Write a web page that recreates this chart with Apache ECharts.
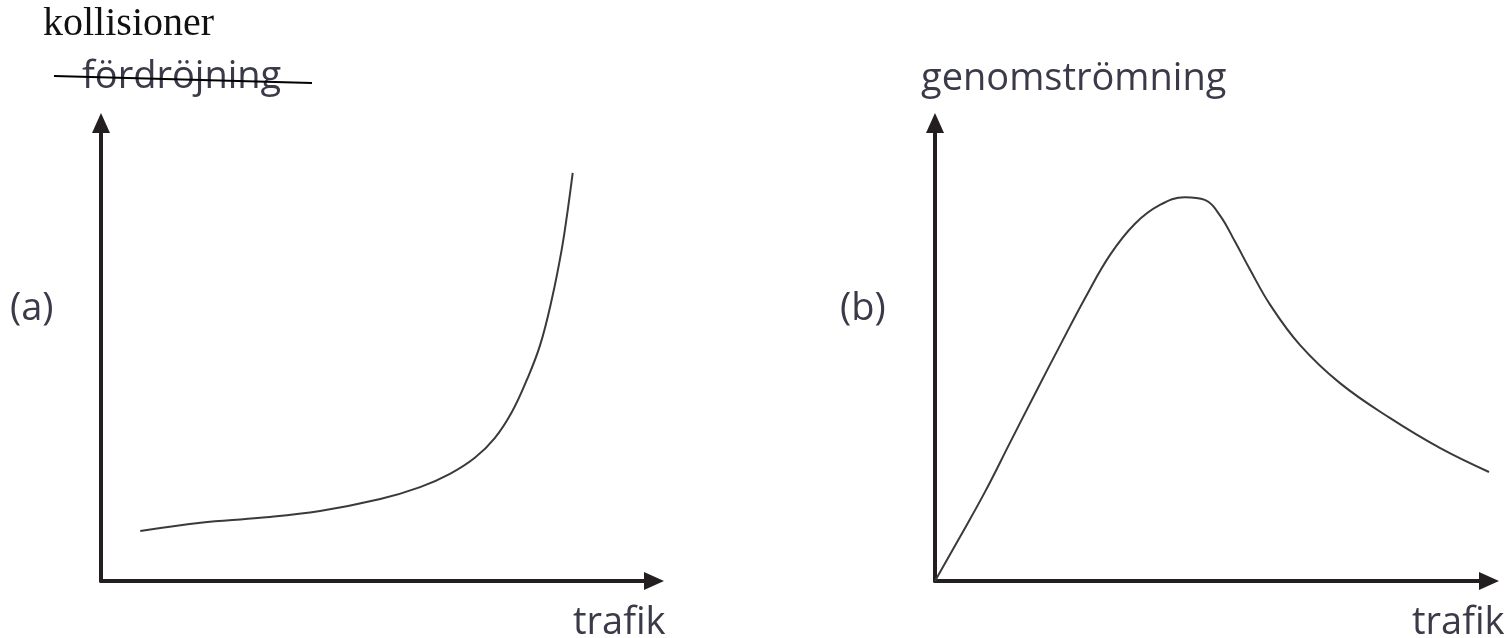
<!DOCTYPE html>
<html>
<head>
<meta charset="utf-8">
<script src="https://cdn.jsdelivr.net/npm/echarts@6/dist/echarts.min.js"></script>
<style>
  html, body { margin: 0; padding: 0; background: #fff; }
  #chart { width: 1508px; height: 638px; }
</style>
</head>
<body>
<div id="chart"></div>
<script>
// (a) fördröjning/kollisioner mot trafik
const trafikA = [7.1, 18.0, 28.8, 39.6, 50.5, 57.7, 63.1, 67.6, 71.2, 74.3, 77.0, 79.4, 81.5, 83.3, 84.4, 85.3];
const kollisionerA = [10.9, 12.7, 13.8, 15.3, 17.9, 20.5, 23.4, 26.9, 31.2, 36.9, 43.9, 51.5, 61.4, 72.3, 81.0, 89.1];

// (b) genomströmning mot trafik
const trafikB = [0, 4.5, 9.0, 13.5, 18.1, 22.6, 27.1, 31.6, 36.1, 40.6, 45.1, 48.7, 51.4, 54.2, 56.9, 60.5, 65.9, 73.1, 82.1, 91.2, 100];
const genomstromningB = [0, 9.6, 19.4, 30.1, 41.0, 51.5, 61.8, 71.2, 78.0, 82.1, 83.8, 83.2, 79.9, 74.0, 67.9, 60.3, 51.5, 43.2, 35.6, 29.0, 23.8];

const axisColor = '#231f20';
const curveColor = '#3a3a3a';
const textColor = '#3a3a48';
const sansFont = '38px "Open Sans"';

function zip(xs, ys) {
  return xs.map((x, i) => [x, ys[i]]);
}

function valueAxis(idx) {
  return {
    type: 'value',
    gridIndex: idx,
    min: 0,
    max: 100,
    axisLine: {
      show: true,
      onZero: false,
      symbol: ['none', 'triangle'],
      symbolSize: [18, 20],
      lineStyle: { color: axisColor, width: 4 }
    },
    axisTick: { show: false },
    axisLabel: { show: false },
    splitLine: { show: false }
  };
}

function curve(idx, data) {
  return {
    type: 'line',
    xAxisIndex: idx,
    yAxisIndex: idx,
    data: data,
    smooth: 0.4,
    showSymbol: false,
    clip: false,
    lineStyle: { color: curveColor, width: 2 }
  };
}

function label(text, x, y, font) {
  return {
    type: 'text',
    x: x,
    y: y,
    style: {
      text: text,
      font: font || sansFont,
      fill: textColor,
      verticalAlign: 'middle'
    }
  };
}

const chart = echarts.init(document.getElementById('chart'));

chart.setOption({
  animation: false,
  grid: [
    { left: 101, top: 123, width: 553, height: 458 },
    { left: 935, top: 123, width: 554, height: 458 }
  ],
  xAxis: [valueAxis(0), valueAxis(1)],
  yAxis: [valueAxis(0), valueAxis(1)],
  series: [
    curve(0, zip(trafikA, kollisionerA)),
    curve(1, zip(trafikB, genomstromningB))
  ],
  graphic: [
    {
      type: 'text',
      x: 43,
      y: 24,
      style: {
        text: 'kollisioner',
        font: '40px "Liberation Serif"',
        fill: '#111',
        verticalAlign: 'middle'
      }
    },
    label('fördröjning', 82, 77),
    {
      type: 'line',
      shape: { x1: 54, y1: 76, x2: 312, y2: 83 },
      style: { stroke: '#000', lineWidth: 2 }
    },
    label('genomströmning', 921, 79),
    label('(a)', 10, 309),
    label('(b)', 840, 309),
    label('trafik', 573, 623),
    label('trafik', 1412, 623)
  ]
});
</script>
</body>
</html>
